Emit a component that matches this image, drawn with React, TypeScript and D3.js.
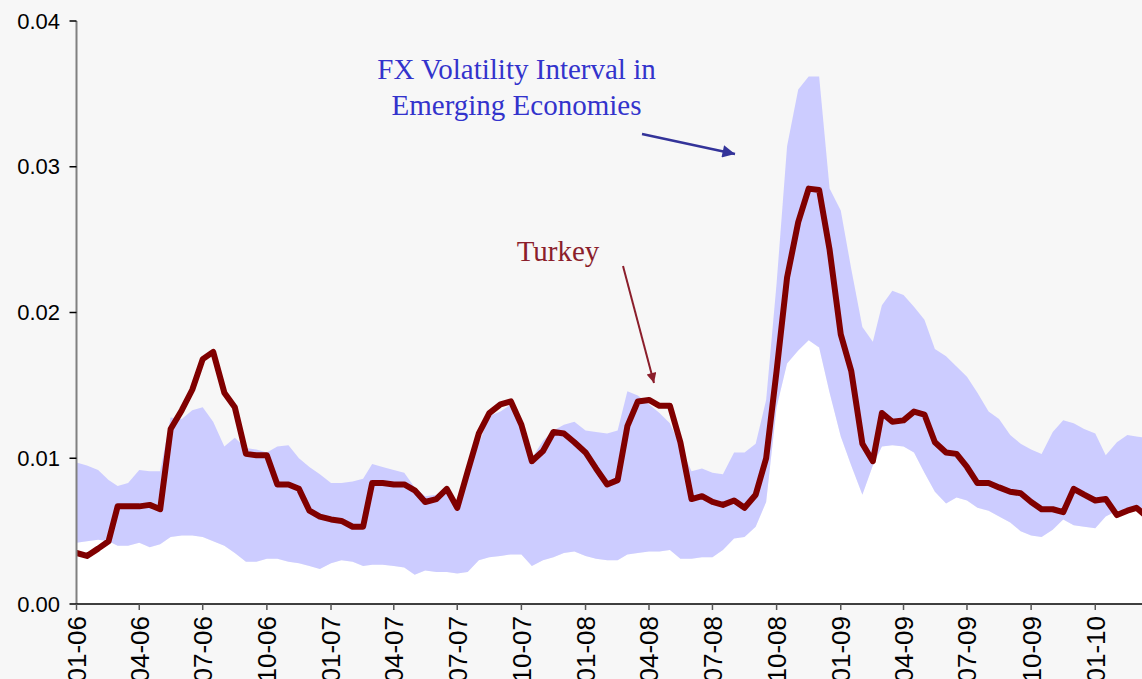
import * as d3 from 'd3';

const DATES = [
  '2006-01-01','2006-01-16','2006-02-01','2006-02-16','2006-03-01','2006-03-16','2006-04-01','2006-04-16',
  '2006-05-01','2006-05-16','2006-06-01','2006-06-16','2006-07-01','2006-07-16','2006-08-01','2006-08-16',
  '2006-09-01','2006-09-16','2006-10-01','2006-10-16','2006-11-01','2006-11-16','2006-12-01','2006-12-16',
  '2007-01-01','2007-01-16','2007-02-01','2007-02-16','2007-03-01','2007-03-16','2007-04-01','2007-04-16',
  '2007-05-01','2007-05-16','2007-06-01','2007-06-16','2007-07-01','2007-07-16','2007-08-01','2007-08-16',
  '2007-09-01','2007-09-16','2007-10-01','2007-10-16','2007-11-01','2007-11-16','2007-12-01','2007-12-16',
  '2008-01-01','2008-01-16','2008-02-01','2008-02-16','2008-03-01','2008-03-16','2008-04-01','2008-04-16',
  '2008-05-01','2008-05-16','2008-06-01','2008-06-16','2008-07-01','2008-07-16','2008-08-01','2008-08-16',
  '2008-09-01','2008-09-16','2008-10-01','2008-10-16','2008-11-01','2008-11-16','2008-12-01','2008-12-16',
  '2009-01-01','2009-01-16','2009-02-01','2009-02-16','2009-03-01','2009-03-16','2009-04-01','2009-04-16',
  '2009-05-01','2009-05-16','2009-06-01','2009-06-16','2009-07-01','2009-07-16','2009-08-01','2009-08-16',
  '2009-09-01','2009-09-16','2009-10-01','2009-10-16','2009-11-01','2009-11-16','2009-12-01','2009-12-16',
  '2010-01-01','2010-01-16','2010-02-01','2010-02-16','2010-03-01','2010-03-16',
];

const UPPER = [
  0.0097,0.0095,0.0092,0.0085,0.0081,0.0083,0.0092,0.0091,0.0091,0.0128,0.0127,0.0133,0.0135,0.0125,0.0108,0.0114,
  0.0107,0.0106,0.0104,0.0108,0.0109,0.0100,0.0094,0.0089,0.0083,0.0083,0.0084,0.0086,0.0096,0.0094,0.0092,0.0090,
  0.0080,0.0074,0.0075,0.0079,0.0066,0.0089,0.0110,0.0129,0.0132,0.0137,0.0121,0.0100,0.0112,0.0119,0.0123,0.0125,
  0.0119,0.0118,0.0117,0.0119,0.0146,0.0143,0.0137,0.0131,0.0124,0.0108,0.0091,0.0093,0.0090,0.0089,0.0104,0.0104,
  0.0110,0.0140,0.0220,0.0314,0.0353,0.0362,0.0362,0.0285,0.0270,0.0230,0.0190,0.0180,0.0205,0.0215,0.0212,0.0204,
  0.0195,0.0175,0.0170,0.0163,0.0156,0.0145,0.0132,0.0127,0.0116,0.0110,0.0106,0.0103,0.0118,0.0126,0.0124,0.0120,
  0.0117,0.0102,0.0111,0.0116,0.0115,0.0114,
];

const LOWER = [
  0.0042,0.0043,0.0044,0.0043,0.0040,0.0040,0.0042,0.0039,0.0041,0.0046,0.0047,0.0047,0.0046,0.0043,0.0040,0.0035,
  0.0029,0.0029,0.0031,0.0031,0.0029,0.0028,0.0026,0.0024,0.0028,0.0030,0.0029,0.0026,0.0027,0.0027,0.0026,0.0025,
  0.0020,0.0023,0.0022,0.0022,0.0021,0.0022,0.0030,0.0032,0.0033,0.0034,0.0034,0.0026,0.0030,0.0032,0.0035,0.0036,
  0.0033,0.0031,0.0030,0.0030,0.0034,0.0035,0.0036,0.0036,0.0037,0.0031,0.0031,0.0032,0.0032,0.0037,0.0045,0.0046,
  0.0053,0.0070,0.0135,0.0165,0.0174,0.0181,0.0176,0.0145,0.0115,0.0095,0.0075,0.0095,0.0108,0.0109,0.0108,0.0104,
  0.0090,0.0077,0.0069,0.0073,0.0071,0.0066,0.0064,0.0060,0.0056,0.0050,0.0047,0.0046,0.0051,0.0058,0.0054,0.0053,
  0.0052,0.0060,0.0064,0.0065,0.0066,0.0065,
];

const TURKEY = [
  0.0035,0.0033,0.0038,0.0043,0.0067,0.0067,0.0067,0.0068,0.0065,0.0120,0.0133,0.0147,0.0168,0.0173,0.0145,0.0135,
  0.0103,0.0102,0.0102,0.0082,0.0082,0.0079,0.0064,0.0060,0.0058,0.0057,0.0053,0.0053,0.0083,0.0083,0.0082,0.0082,
  0.0078,0.0070,0.0072,0.0079,0.0066,0.0091,0.0117,0.0131,0.0137,0.0139,0.0123,0.0098,0.0105,0.0118,0.0117,0.0111,
  0.0104,0.0093,0.0082,0.0085,0.0122,0.0139,0.0140,0.0136,0.0136,0.0111,0.0072,0.0074,0.0070,0.0068,0.0071,0.0066,
  0.0075,0.0100,0.0160,0.0224,0.0262,0.0285,0.0284,0.0243,0.0185,0.0160,0.0110,0.0098,0.0131,0.0125,0.0126,0.0132,
  0.0130,0.0111,0.0104,0.0103,0.0094,0.0083,0.0083,0.0080,0.0077,0.0076,0.0070,0.0065,0.0065,0.0063,0.0079,0.0075,
  0.0071,0.0072,0.0061,0.0064,0.0066,0.0060,
];

const Y_TICKS = [0, 0.01, 0.02, 0.03, 0.04];
const X_TICKS = [
  '2006-01-01','2006-04-01','2006-07-01','2006-10-01','2007-01-01','2007-04-01','2007-07-01','2007-10-01',
  '2008-01-01','2008-04-01','2008-07-01','2008-10-01','2009-01-01','2009-04-01','2009-07-01','2009-10-01','2010-01-01',
];

const W = 1142, H = 679;
const LEFT = 76.5, BOTTOM = 604, TOP = 21;

const parse = d3.timeParse('%Y-%m-%d');

export default function App() {
  const rows = DATES.map((d, i) => ({ date: parse(d)!, up: UPPER[i], lo: LOWER[i], tr: TURKEY[i] }));

  const x = d3.scaleTime()
    .domain([parse('2006-01-01')!, parse('2010-03-09')!])
    .range([LEFT, W]);
  const y = d3.scaleLinear().domain([0, 0.04]).range([BOTTOM, TOP]);

  const whiteArea = d3.area<typeof rows[0]>()
    .x(d => x(d.date)).y0(y(0)).y1(d => y(d.lo));
  const bandArea = d3.area<typeof rows[0]>()
    .x(d => x(d.date)).y0(d => y(d.lo)).y1(d => y(d.up));
  const turkeyLine = d3.line<typeof rows[0]>()
    .x(d => x(d.date)).y(d => y(d.tr));

  const fmt = d3.timeFormat('%m-%y');

  return (
    <div style={{ position: 'absolute', left: 0, top: 0, width: W, height: H, overflow: 'hidden', background: '#f7f7f7' }}>
      <svg width={W} height={H} style={{ display: 'block' }}>
        <defs>
          <clipPath id="plot">
            <rect x={LEFT} y={0} width={W - LEFT} height={BOTTOM} />
          </clipPath>
          <marker id="headBlue" viewBox="0 0 10 10" refX="10" refY="5" markerWidth="7" markerHeight="5" markerUnits="strokeWidth" orient="auto">
            <path d="M0,0 L10,5 L0,10 z" fill="#333399" />
          </marker>
          <marker id="headRed" viewBox="0 0 10 10" refX="10" refY="5" markerWidth="7" markerHeight="5" markerUnits="strokeWidth" orient="auto">
            <path d="M0,0 L10,5 L0,10 z" fill="#8b1e2b" />
          </marker>
        </defs>
        <rect width={W} height={H} fill="#f7f7f7" />

        <g clipPath="url(#plot)">
          <path d={whiteArea(rows) ?? ''} fill="#ffffff" />
          <path d={bandArea(rows) ?? ''} fill="#ccccff" />
          <path d={turkeyLine(rows) ?? ''} fill="none" stroke="#800000" strokeWidth={6} strokeLinejoin="round" strokeLinecap="round" />
        </g>

        {/* axes */}
        <line x1={LEFT} x2={LEFT} y1={TOP} y2={BOTTOM} stroke="#808080" strokeWidth={2} />
        <line x1={LEFT} x2={W} y1={BOTTOM} y2={BOTTOM} stroke="#000" strokeWidth={1.5} />
        {Y_TICKS.map(t => (
          <g key={t}>
            <line x1={LEFT - 7} x2={LEFT} y1={y(t)} y2={y(t)} stroke="#000" strokeWidth={1.5} />
            <text x={60} y={y(t)} dy="0.35em" textAnchor="end" fontFamily="Liberation Sans, Arial, sans-serif" fontSize={22} fill="#000">
              {t.toFixed(2)}
            </text>
          </g>
        ))}
        {X_TICKS.map(s => {
          const xx = x(parse(s)!);
          return (
            <g key={s}>
              <line x1={xx} x2={xx} y1={BOTTOM} y2={BOTTOM + 6} stroke="#555" strokeWidth={1.5} />
              <text transform={`translate(${xx},${BOTTOM + 12}) rotate(-90)`} dy="0.36em" textAnchor="end"
                fontFamily="Liberation Sans, Arial, sans-serif" fontSize={26} fill="#000">
                {fmt(parse(s)!)}
              </text>
            </g>
          );
        })}

        {/* annotations */}
        <text x={516.5} y={79} textAnchor="middle" fontFamily="Liberation Serif, Times New Roman, serif" fontSize={29} fill="#3333cc">
          FX Volatility Interval in
        </text>
        <text x={516.5} y={115} textAnchor="middle" fontFamily="Liberation Serif, Times New Roman, serif" fontSize={29} fill="#3333cc">
          Emerging Economies
        </text>
        <line x1={642} y1={134} x2={735} y2={154} stroke="#333399" strokeWidth={2.5} markerEnd="url(#headBlue)" />

        <text x={558} y={261} textAnchor="middle" fontFamily="Liberation Serif, Times New Roman, serif" fontSize={29} fill="#8b1e2b">
          Turkey
        </text>
        <line x1={623} y1={266} x2={654} y2={383} stroke="#8b1e2b" strokeWidth={2} markerEnd="url(#headRed)" />
      </svg>
    </div>
  );
}
